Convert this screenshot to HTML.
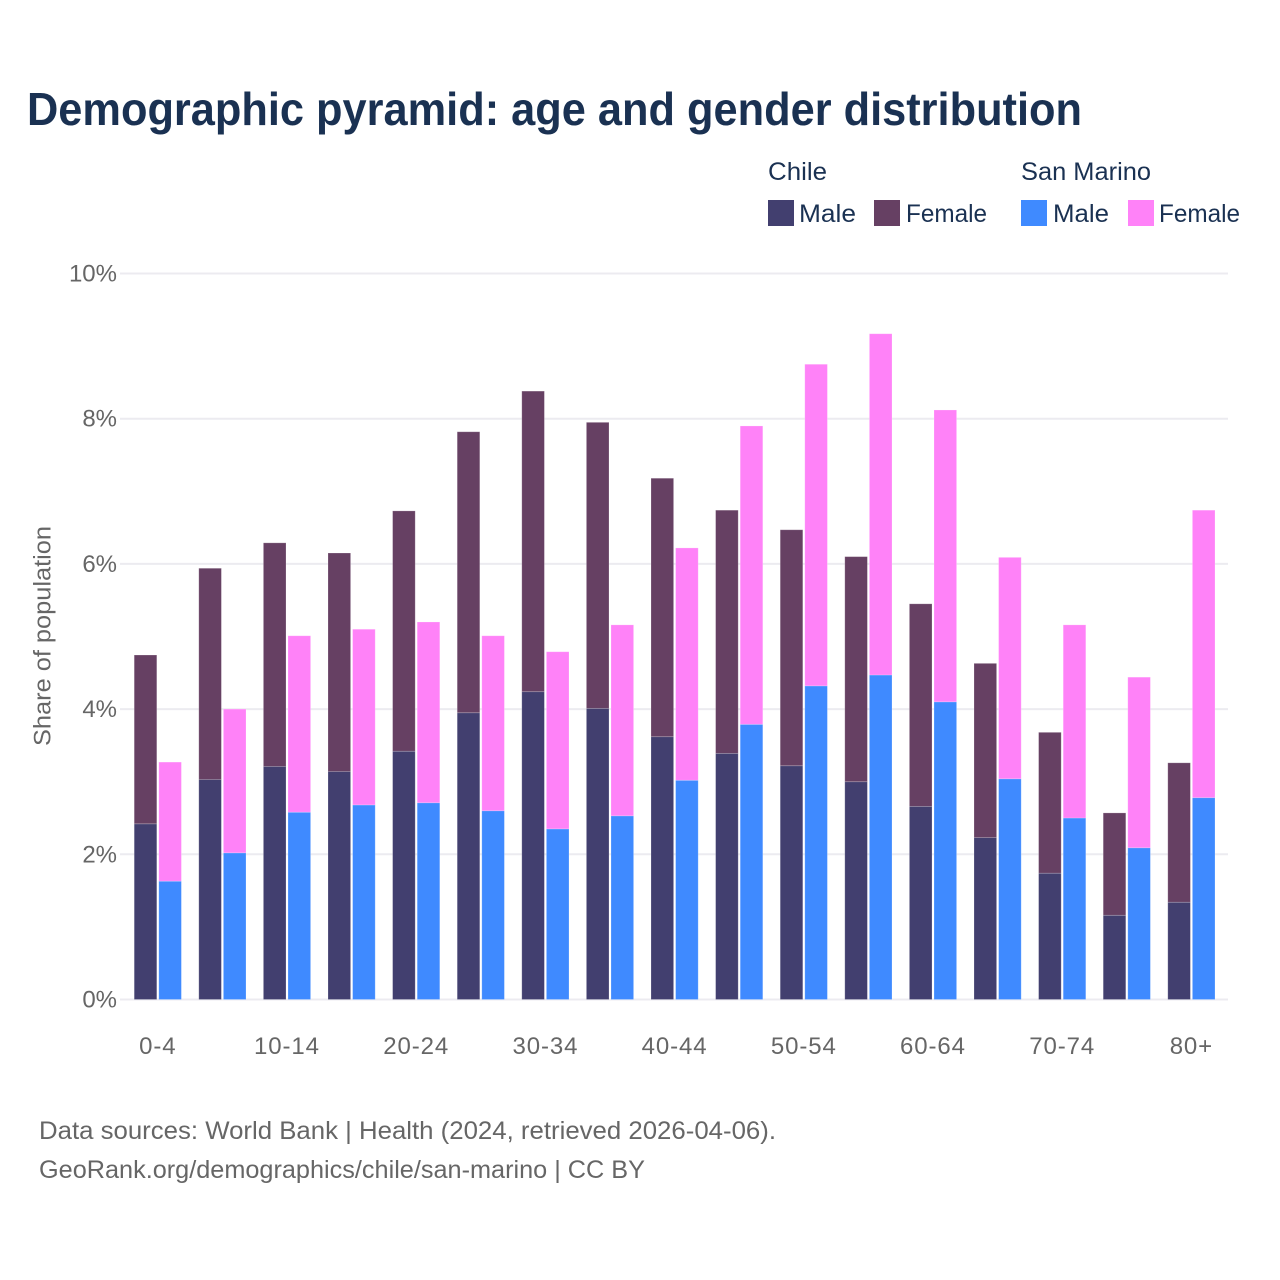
<!DOCTYPE html>
<html lang="en">
<head>
<meta charset="utf-8">
<title>Demographic pyramid: age and gender distribution</title>
<style>
  html, body { margin: 0; padding: 0; background: #fff; }
  svg { display: block; font-family: "Liberation Sans", sans-serif; }
</style>
</head>
<body>
<svg id="chart" xmlns="http://www.w3.org/2000/svg" width="1280" height="1280" viewBox="0 0 1280 1280">
  <rect x="0" y="0" width="1280" height="1280" fill="#ffffff"/>
  <text x="27" y="125" font-size="46" font-weight="700" fill="#1a3152" textLength="1055" lengthAdjust="spacingAndGlyphs">Demographic pyramid: age and gender distribution</text>

  <g font-size="25" fill="#1a3152">
    <text x="768" y="180" textLength="59" lengthAdjust="spacingAndGlyphs">Chile</text>
    <text x="1021" y="180" textLength="130" lengthAdjust="spacingAndGlyphs">San Marino</text>
    <rect x="768" y="200" width="26" height="26" fill="#423f6f"/>
    <text x="799" y="222" textLength="57" lengthAdjust="spacingAndGlyphs">Male</text>
    <rect x="874" y="200" width="26" height="26" fill="#664063"/>
    <text x="906" y="222" textLength="81" lengthAdjust="spacingAndGlyphs">Female</text>
    <rect x="1021" y="200" width="26" height="26" fill="#3f8aff"/>
    <text x="1053" y="222" textLength="56" lengthAdjust="spacingAndGlyphs">Male</text>
    <rect x="1128" y="200" width="26" height="26" fill="#ff82f8"/>
    <text x="1159" y="222" textLength="81" lengthAdjust="spacingAndGlyphs">Female</text>
  </g>

  <g id="grid"></g>
  <g id="y-ticks"></g>
  <g id="bars"></g>
  <g id="x-ticks"></g>

  <text transform="translate(50.5 636) rotate(-90)" text-anchor="middle" font-size="24" fill="#666666" textLength="220" lengthAdjust="spacingAndGlyphs">Share of population</text>

  <text x="39" y="1139" font-size="25" fill="#666666" textLength="737" lengthAdjust="spacingAndGlyphs">Data sources: World Bank | Health (2024, retrieved 2026-04-06).</text>
  <text x="39" y="1178" font-size="25" fill="#666666" textLength="606" lengthAdjust="spacingAndGlyphs">GeoRank.org/demographics/chile/san-marino | CC BY</text>
</svg>
<script>
const ageGroups = ["0-4","5-9","10-14","15-19","20-24","25-29","30-34","35-39","40-44","45-49","50-54","55-59","60-64","65-69","70-74","75-79","80+"];
const chileMale = [2.42,3.03,3.21,3.14,3.42,3.95,4.24,4.01,3.62,3.39,3.22,3.00,2.66,2.23,1.74,1.16,1.34];
const chileFemale = [2.325,2.91,3.08,3.01,3.31,3.87,4.14,3.94,3.56,3.35,3.25,3.10,2.79,2.40,1.94,1.41,1.92];
const sanMarinoMale = [1.63,2.02,2.58,2.68,2.71,2.60,2.35,2.53,3.02,3.79,4.32,4.47,4.10,3.04,2.50,2.09,2.78];
const sanMarinoFemale = [1.64,1.98,2.43,2.42,2.49,2.41,2.44,2.63,3.20,4.11,4.43,4.70,4.02,3.05,2.66,2.35,3.96];
const yTicks = [0,2,4,6,8,10];

const NS = "http://www.w3.org/2000/svg";
const plot = { left: 120, right: 1228, top: 273.5, bottom: 999.5, yMax: 10, first: 134.2, step: 64.6, barW: 22.6, offset: 24.6 };
function yScale(v) { return plot.bottom - (v / plot.yMax) * (plot.bottom - plot.top); }
function xScale(i) { return plot.first + i * plot.step; }
function make(tag, parent, attrs) {
  const el = document.createElementNS(NS, tag);
  for (const k in attrs) el.setAttribute(k, attrs[k]);
  parent.appendChild(el);
  return el;
}

const gridG = document.getElementById("grid");
const yTickG = document.getElementById("y-ticks");
yTicks.forEach(function (t) {
  const line = make("line", gridG, { x1: plot.left, x2: plot.right, y1: yScale(t), y2: yScale(t), stroke: "#ecebf0", "stroke-width": 2 });
  
  
  const label = make("text", yTickG, { x: 117, y: yScale(t) + 8, "text-anchor": "end", "font-size": 24, fill: "#666666" });
  
  
  label.textContent = t + "%";
});

const barsG = document.getElementById("bars");
function drawBar(name, i, dx, base, value, color) {
  const y0 = yScale(base);
  const y1 = yScale(base + value);
  const r = make("rect", barsG, { x: xScale(i) + dx, y: y1, width: plot.barW, height: y0 - y1, fill: color, stroke: "#ffffff", "stroke-opacity": 0.25, "stroke-width": 0.8 });
  
  
}
ageGroups.forEach(function (g, i) {
  drawBar("bar-chile-male", i, 0, 0, chileMale[i], "#423f6f");
  drawBar("bar-chile-female", i, 0, chileMale[i], chileFemale[i], "#664063");
  drawBar("bar-san-marino-male", i, plot.offset, 0, sanMarinoMale[i], "#3f8aff");
  drawBar("bar-san-marino-female", i, plot.offset, sanMarinoMale[i], sanMarinoFemale[i], "#ff82f8");
});

const xTickG = document.getElementById("x-ticks");
ageGroups.forEach(function (g, i) {
  if (i % 2 !== 0) return;
  const label = make("text", xTickG, { x: xScale(i) + (plot.offset + plot.barW) / 2, y: 1054, "text-anchor": "middle", "font-size": 24, "letter-spacing": 0.9, fill: "#666666" });
  
  
  label.textContent = g;
});
</script>
</body>
</html>
